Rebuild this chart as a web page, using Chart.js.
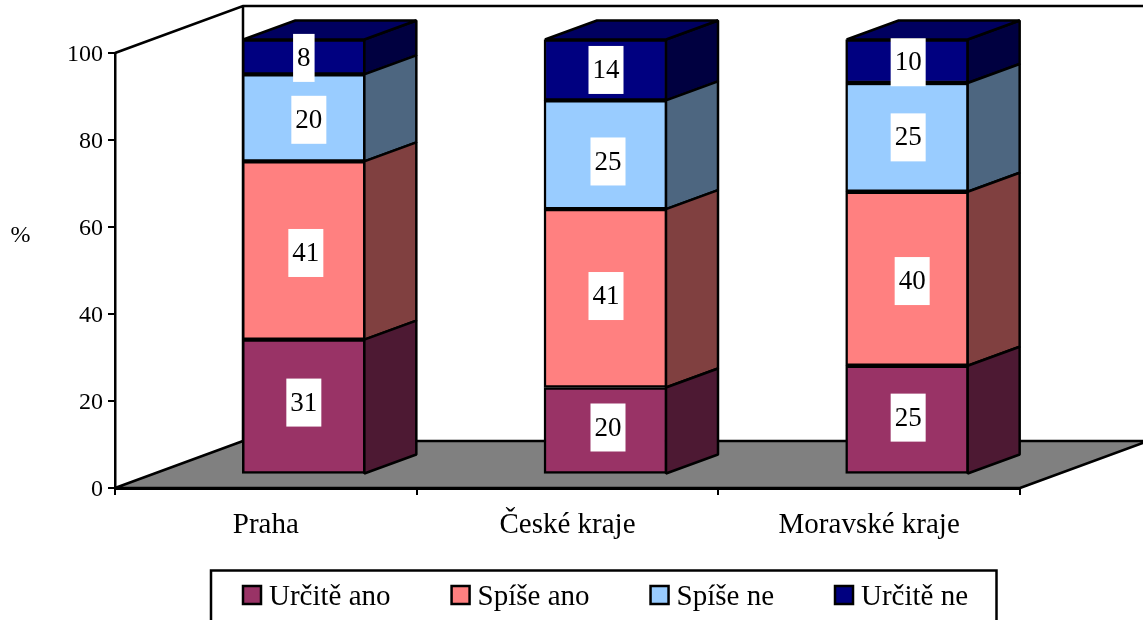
<!DOCTYPE html>
<html lang="cs">
<head>
<meta charset="utf-8">
<title>Graf</title>
<script src="https://cdn.jsdelivr.net/npm/chart.js@4"></script>
<style>
    html, body { margin: 0; padding: 0; background: #fff; overflow: hidden; }
    canvas { display: block; }
</style>
</head>
<body>
<canvas id="chart" width="1143" height="620"></canvas>
<script>
// Data
const categories = ['Praha', 'České kraje', 'Moravské kraje'];
const urciteAno = [31, 20, 25];
const spiseAno = [41, 41, 40];
const spiseNe = [20, 25, 25];
const urciteNe = [8, 14, 10];

const FONT = '"Liberation Serif", "Times New Roman", serif';

// Fake 3D: wall depth of the plot, depth of the bars, shift of bars into the plot
const WALL_DX = 128, WALL_DY = -47;
const BAR_DX = 52, BAR_DY = -19;
const SHIFT_X = 38, SHIFT_Y = -13.5;

// Value labels are not quite centred in the reference: [dx, dy] per dataset, per bar
const labelOffsets = [
    [[0, -4], [2.5, -3], [1, -2]],
    [[2, 2.5], [0.5, -2.3], [5, 2.3]],
    [[5, 2], [2.5, 6.7], [1, 0]],
    [[0, 1], [0.5, 0], [1, 1]]
];

function polygon(ctx, points, fill, lineWidth) {
    ctx.beginPath();
    points.forEach((p, i) => i ? ctx.lineTo(p[0], p[1]) : ctx.moveTo(p[0], p[1]));
    ctx.closePath();
    if (fill) {
        ctx.fillStyle = fill;
        ctx.fill();
    }
    ctx.lineWidth = lineWidth;
    ctx.strokeStyle = '#000';
    ctx.lineJoin = 'bevel';
    ctx.stroke();
}

const depthPlugin = {
    id: 'depth',
    afterLayout(chart) {
        // y tick labels sit 2px lower than Chart.js puts them
        const scale = chart.scales.y;
        const drawLabels = scale.drawLabels;
        scale.drawLabels = function (area) {
            chart.ctx.save();
            chart.ctx.translate(0, 2);
            drawLabels.call(scale, area);
            chart.ctx.restore();
        };
    },
    beforeDatasetsDraw(chart) {
        const ctx = chart.ctx;
        const a = chart.chartArea;

        // back wall outline
        ctx.save();
        ctx.strokeStyle = '#000';
        ctx.lineWidth = 2.5;
        ctx.beginPath();
        ctx.moveTo(a.left, a.top);
        ctx.lineTo(a.left + WALL_DX, a.top + WALL_DY);
        ctx.lineTo(a.right + WALL_DX, a.top + WALL_DY);
        ctx.moveTo(a.left + WALL_DX, a.top + WALL_DY);
        ctx.lineTo(a.left + WALL_DX, a.bottom + WALL_DY);
        ctx.stroke();

        // grey floor
        polygon(ctx, [
            [a.left, a.bottom],
            [a.left + WALL_DX, a.bottom + WALL_DY],
            [a.right + WALL_DX, a.bottom + WALL_DY],
            [a.right, a.bottom]
        ], '#808080', 2.5);
        ctx.restore();

        // the bars sit further back than the axes
        ctx.save();
        ctx.translate(SHIFT_X, SHIFT_Y);
    },
    afterDatasetDraw(chart, args) {
        const ctx = chart.ctx;
        const isLast = args.index === chart.data.datasets.length - 1;
        args.meta.data.forEach(bar => {
            const right = bar.x + bar.width / 2 - 1;
            const left = bar.x - bar.width / 2 + 1;
            polygon(ctx, [
                [right, bar.y],
                [right + BAR_DX, bar.y + BAR_DY],
                [right + BAR_DX, bar.base + BAR_DY],
                [right, bar.base]
            ], args.meta._dataset.sideColor, 2.5);
            if (isLast) {
                polygon(ctx, [
                    [left, bar.y],
                    [left + BAR_DX, bar.y + BAR_DY],
                    [right + BAR_DX, bar.y + BAR_DY],
                    [right, bar.y]
                ], args.meta._dataset.topColor, 2.5);
            }
        });
    },
    afterDatasetsDraw(chart) {
        const ctx = chart.ctx;

        // value labels on white boxes
        ctx.font = '27px ' + FONT;
        ctx.textAlign = 'center';
        ctx.textBaseline = 'middle';
        chart.data.datasets.forEach((ds, i) => {
            chart.getDatasetMeta(i).data.forEach((bar, j) => {
                const text = String(ds.data[j]);
                const w = ctx.measureText(text).width + 8;
                const cx = bar.x + labelOffsets[i][j][0];
                const cy = (bar.y + bar.base) / 2 + labelOffsets[i][j][1];
                ctx.fillStyle = '#fff';
                ctx.fillRect(cx - w / 2, cy - 24, w, 48);
                ctx.fillStyle = '#000';
                ctx.fillText(text, cx, cy + 1);
            });
        });
        ctx.restore();
    },
    afterDraw(chart) {
        const ctx = chart.ctx;
        ctx.save();

        // axis unit, written upright
        ctx.fillStyle = '#000';
        ctx.font = '24px ' + FONT;
        ctx.textAlign = 'center';
        ctx.textBaseline = 'middle';
        ctx.fillText('%', 20.5, 236);

        // legend box, runs off the bottom of the picture
        ctx.strokeStyle = '#000';
        ctx.lineWidth = 2.5;
        ctx.strokeRect(211, 570.5, 785.5, 60);

        ctx.font = '29px ' + FONT;
        ctx.textAlign = 'left';
        let x = 243;
        chart.data.datasets.forEach(ds => {
            ctx.fillStyle = ds.backgroundColor;
            ctx.fillRect(x, 586, 18, 18);
            ctx.strokeRect(x, 586, 18, 18);
            ctx.fillStyle = '#000';
            ctx.fillText(ds.label, x + 26, 597);
            x += 26 + ctx.measureText(ds.label).width + 61;
        });
        ctx.restore();
    }
};

function makeDataset(label, data, color, sideColor, topColor) {
    return {
        label: label,
        data: data,
        backgroundColor: color,
        borderColor: '#000',
        borderWidth: 2.5,
        borderSkipped: false,
        barThickness: 123,
        clip: false,
        sideColor: sideColor,
        topColor: topColor
    };
}

new Chart(document.getElementById('chart'), {
    type: 'bar',
    data: {
        labels: categories,
        datasets: [
            makeDataset('Určitě ano', urciteAno, '#993366', '#4d1933'),
            makeDataset('Spíše ano', spiseAno, '#ff8080', '#804040'),
            makeDataset('Spíše ne', spiseNe, '#99ccff', '#4d6680'),
            makeDataset('Určitě ne', urciteNe, '#000080', '#000040', '#000060')
        ]
    },
    plugins: [depthPlugin],
    options: {
        responsive: false,
        animation: false,
        layout: { padding: { left: 0, right: 123, top: 53, bottom: 0 } },
        plugins: { legend: { display: false }, tooltip: { enabled: false } },
        scales: {
            x: {
                stacked: true,
                afterFit(scale) { scale.height = 132; },
                border: { color: '#000', width: 3 },
                grid: { drawOnChartArea: false, color: '#000', lineWidth: 2, tickLength: 7 },
                ticks: { color: '#000', font: { family: FONT, size: 29 }, padding: 13, maxRotation: 0 }
            },
            y: {
                stacked: true,
                min: 0,
                max: 100,
                afterFit(scale) { scale.width = 115; },
                border: { color: '#000', width: 2.5 },
                grid: { drawOnChartArea: false, color: '#000', lineWidth: 2, tickLength: 7 },
                ticks: { color: '#000', font: { family: FONT, size: 24 }, stepSize: 20, padding: 5 }
            }
        }
    }
});
</script>
</body>
</html>
